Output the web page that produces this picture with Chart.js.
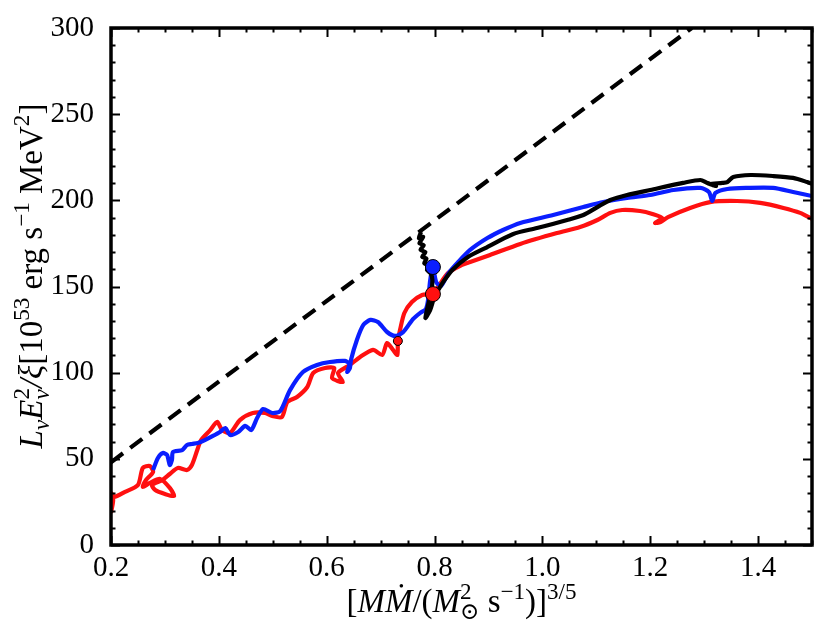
<!DOCTYPE html>
<html>
<head>
<meta charset="utf-8">
<script src="https://cdn.jsdelivr.net/npm/chart.js@4"></script>
<style>
    body { margin: 0; background: #ffffff; }
    #wrap { width: 827px; height: 641px; position: relative; }
</style>
</head>
<body>
<div id="wrap"><canvas id="chart_luminosity"></canvas></div>
<script>
// x, y pairs
const redCurve = [
    [0.200, 18.6], [0.204, 26.1], [0.200, 30.2], [0.206, 27.9], [0.226, 30.8], [0.250, 34.8],
    [0.259, 44.7], [0.272, 45.8], [0.278, 42.4], [0.265, 37.7], [0.259, 33.7], [0.272, 36.0],
    [0.291, 38.3], [0.309, 33.1], [0.317, 28.4], [0.300, 29.6], [0.282, 31.9], [0.276, 34.8],
    [0.295, 37.7], [0.309, 41.2], [0.324, 44.7], [0.341, 43.5], [0.350, 46.4], [0.360, 55.1],
    [0.367, 60.9], [0.384, 66.7], [0.397, 71.4], [0.406, 66.7], [0.421, 65.0], [0.439, 72.5],
    [0.463, 76.6], [0.486, 76.6], [0.499, 74.9], [0.517, 74.3], [0.527, 83.0], [0.545, 85.9],
    [0.564, 91.7], [0.575, 99.8], [0.597, 102.7], [0.614, 102.7], [0.610, 96.9], [0.630, 94.6],
    [0.621, 99.8], [0.643, 104.5], [0.662, 109.1], [0.686, 113.2], [0.703, 110.3], [0.712, 117.2],
    [0.723, 113.2], [0.731, 110.3], [0.732, 118.4], [0.736, 124.8], [0.744, 134.6], [0.758, 141.0],
    [0.777, 145.1], [0.797, 146.2], [0.825, 157.8], [0.851, 162.5], [0.866, 164.2], [0.903, 168.3],
    [0.959, 174.7], [1.027, 181.0], [1.070, 184.5], [1.102, 188.6], [1.126, 192.7], [1.148, 194.4],
    [1.181, 193.8], [1.204, 192.1], [1.222, 189.8], [1.209, 186.9], [1.219, 187.4], [1.233, 190.3],
    [1.274, 195.6], [1.311, 199.0], [1.361, 199.6], [1.404, 198.5], [1.447, 195.6], [1.478, 192.7],
    [1.500, 189.2]
];
const blueCurve = [
    [0.278, 43.5], [0.287, 50.5], [0.296, 53.4], [0.304, 52.2], [0.309, 46.4], [0.313, 49.3],
    [0.315, 54.0], [0.332, 55.1], [0.341, 58.0], [0.350, 58.6], [0.361, 59.2], [0.374, 60.9],
    [0.389, 63.3], [0.402, 65.6], [0.412, 67.9], [0.421, 63.8], [0.436, 65.6], [0.449, 69.1],
    [0.460, 66.7], [0.471, 73.7], [0.482, 78.9], [0.499, 76.6], [0.514, 77.8], [0.532, 89.9],
    [0.556, 100.4], [0.582, 104.5], [0.606, 106.2], [0.634, 106.8], [0.642, 105.0], [0.638, 100.4],
    [0.643, 102.7], [0.645, 107.4], [0.656, 119.0], [0.668, 127.7], [0.681, 130.6], [0.695, 129.4],
    [0.712, 123.6], [0.727, 121.3], [0.742, 123.6], [0.760, 131.1], [0.773, 134.6], [0.784, 136.9],
    [0.788, 142.2], [0.792, 153.8], [0.797, 161.3], [0.803, 152.6], [0.812, 150.3], [0.825, 157.3],
    [0.844, 164.2], [0.866, 171.2], [0.898, 178.1], [0.927, 182.8], [0.959, 186.9], [1.020, 191.5],
    [1.076, 196.1], [1.113, 199.0], [1.157, 201.4], [1.200, 203.1], [1.243, 206.0], [1.293, 207.2],
    [1.309, 204.8], [1.315, 199.6], [1.321, 204.3], [1.343, 206.6], [1.380, 207.2], [1.428, 207.2],
    [1.465, 204.8], [1.500, 202.5]
];
const blackCurve = [
    [0.775, 181.6], [0.771, 178.1], [0.779, 178.8], [0.772, 175.2], [0.780, 174.0], [0.774, 171.3],
    [0.783, 170.0], [0.777, 167.1], [0.785, 166.2], [0.781, 163.4], [0.789, 162.2], [0.786, 159.6],
    [0.793, 157.6], [0.796, 153.8], [0.794, 146.8], [0.788, 139.3], [0.783, 131.7],
    [0.792, 136.4], [0.799, 143.3], [0.807, 148.0], [0.816, 152.6], [0.833, 159.6], [0.862, 167.1],
    [0.894, 172.3], [0.946, 180.5], [0.990, 183.9], [1.046, 188.6], [1.076, 191.5], [1.102, 196.1],
    [1.126, 200.2], [1.157, 203.1], [1.200, 206.0], [1.261, 210.1], [1.293, 211.8], [1.306, 210.1],
    [1.322, 208.3], [1.311, 209.5], [1.334, 210.1], [1.343, 210.6], [1.354, 213.5], [1.386, 214.7],
    [1.428, 214.1], [1.465, 213.0], [1.491, 210.6], [1.500, 209.5]
];
const limitLine = [[0.2, 48], [1.277, 300]];
const bigDots = [[0.797, 161.3, "#0a1eff"], [0.797, 145.6, "#ff1010"]];
const smallDots = [[0.732, 118.4, "#ff1010"]];

const xTicks = [0.2, 0.4, 0.6, 0.8, 1.0, 1.2, 1.4];
const yTicks = [0, 50, 100, 150, 200, 250, 300];

const toPoints = (arr) => arr.map((p) => ({ x: p[0], y: p[1] }));
const serif = "\"Liberation Serif\", \"DejaVu Serif\", serif";

function drawRich(ctx, parts, size) {
    const fontFor = (p) => (p.i ? "italic " : "") + (p.o ? size * 0.7 : size) + "px " + serif;
    let total = 0, last = 0, lastW = 0;
    const placed = parts.map((p) => {
        ctx.font = fontFor(p);
        const w = ctx.measureText(p.t).width;
        let x;
        if (p.stack) {
            x = last;
            total = last + Math.max(lastW, w);
        } else {
            x = total;
            total += w;
        }
        last = x; lastW = w;
        return { p, x };
    });
    const start = -total / 2;
    placed.forEach(({ p, x }) => {
        ctx.font = fontFor(p);
        let dy = 0;
        if (p.o === "sup") dy = -size * 0.4;
        if (p.o === "sub") dy = size * 0.22;
        ctx.fillText(p.t, start + x, dy);
    });
}

const yTitle = [
    { t: "L", i: 1 }, { t: "ν", i: 1, o: "sub" }, { t: "E", i: 1 }, { t: "ν", i: 1, o: "sub" },
    { t: "2", o: "sup", stack: 1 }, { t: "/ξ", i: 1 }, { t: "[10" }, { t: "53", o: "sup" },
    { t: " erg s" }, { t: "−1", o: "sup" }, { t: " MeV" }, { t: "2", o: "sup" }, { t: "]" }
];
const xTitle = [
    { t: "[" }, { t: "M", i: 1 }, { t: "Ṁ", i: 1 }, { t: "/(" }, { t: "M", i: 1 },
    { t: "⊙", o: "sub" }, { t: "2", o: "sup", stack: 1 }, { t: " s" }, { t: "−1", o: "sup" },
    { t: ")]" }, { t: "3/5", o: "sup" }
];

const framePlugin = {
    id: "frame",
    afterDraw(chart) {
        const ctx = chart.ctx;
        const a = chart.chartArea;
        const xs = chart.scales.x;
        const ys = chart.scales.y;
        ctx.save();
        ctx.strokeStyle = "#000000";
        ctx.lineWidth = 2;
        for (let i = 0; i <= 26; i++) {
            const v = 0.2 + i * 0.05;
            const px = Math.round(xs.getPixelForValue(v)) + 0.5;
            const len = i % 4 === 0 ? 9 : 4.5;
            ctx.beginPath();
            ctx.moveTo(px, a.bottom); ctx.lineTo(px, a.bottom - len);
            ctx.moveTo(px, a.top); ctx.lineTo(px, a.top + len);
            ctx.stroke();
        }
        for (let v = 0; v <= 300; v += 10) {
            const py = Math.round(ys.getPixelForValue(v)) + 0.5;
            const len = v % 50 === 0 ? 9 : 4.5;
            ctx.beginPath();
            ctx.moveTo(a.left, py); ctx.lineTo(a.left + len, py);
            ctx.moveTo(a.right, py); ctx.lineTo(a.right - len, py);
            ctx.stroke();
        }
        ctx.lineWidth = 3.5;
        ctx.strokeRect(a.left, a.top, a.right - a.left, a.bottom - a.top);

        ctx.fillStyle = "#000000";
        ctx.textBaseline = "alphabetic";
        ctx.save();
        ctx.translate(42, 276);
        ctx.rotate(-Math.PI / 2);
        drawRich(ctx, yTitle, 33);
        ctx.restore();
        ctx.save();
        ctx.translate((a.left + a.right) / 2, 612);
        drawRich(ctx, xTitle, 33);
        ctx.restore();
        ctx.restore();
    }
};

const lineSet = (label, data, color) => ({
    label: label,
    data: toPoints(data),
    showLine: true,
    borderColor: color,
    borderWidth: 4.2,
    pointRadius: 0,
    tension: 0.25,
    fill: false
});

new Chart(document.getElementById("chart_luminosity"), {
    type: "scatter",
    data: {
        datasets: [
            {
                label: "big dots",
                data: toPoints(bigDots),
                pointRadius: 7.5,
                pointBackgroundColor: bigDots.map((d) => d[2]),
                pointBorderColor: "#000000",
                pointBorderWidth: 1
            },
            {
                label: "small dots",
                data: toPoints(smallDots),
                pointRadius: 4.5,
                pointBackgroundColor: smallDots.map((d) => d[2]),
                pointBorderColor: "#000000",
                pointBorderWidth: 1
            },
            Object.assign(lineSet("limit", limitLine, "#000000"), { borderDash: [15, 9], tension: 0 }),
            lineSet("black", blackCurve, "#000000"),
            lineSet("blue", blueCurve, "#0a1eff"),
            lineSet("red", redCurve, "#ff1010")
        ]
    },
    options: {
        responsive: true,
        maintainAspectRatio: false,
        animation: false,
        layout: { padding: { top: 28, right: 15, left: 0, bottom: 0 } },
        scales: {
            x: {
                type: "linear",
                min: 0.2,
                max: 1.5,
                afterFit: (s) => { s.height = 96; },
                afterBuildTicks: (s) => { s.ticks = xTicks.map((v) => ({ value: v })); },
                grid: { display: false },
                border: { display: false },
                ticks: {
                    padding: -2,
                    color: "#000000",
                    font: { family: serif, size: 29 },
                    callback: (v) => v.toFixed(1)
                }
            },
            y: {
                type: "linear",
                min: 0,
                max: 300,
                afterFit: (s) => { s.width = 111; },
                afterBuildTicks: (s) => { s.ticks = yTicks.map((v) => ({ value: v })); },
                grid: { display: false },
                border: { display: false },
                ticks: {
                    padding: 9,
                    color: "#000000",
                    font: { family: serif, size: 29 }
                }
            }
        },
        plugins: {
            legend: { display: false },
            tooltip: { enabled: false }
        }
    },
    plugins: [framePlugin]
});
</script>
</body>
</html>
